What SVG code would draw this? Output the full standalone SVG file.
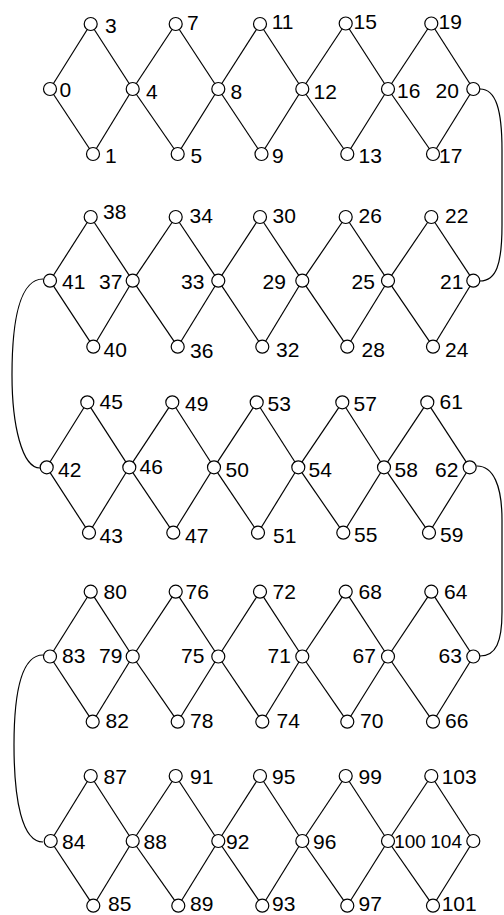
<svg xmlns="http://www.w3.org/2000/svg" width="504" height="915" viewBox="0 0 504 915">
<style>
.e{stroke:#000;stroke-width:1.2;fill:none}
.n circle{fill:#fff;stroke:#000;stroke-width:1.2}
.n text{font-family:"Liberation Sans",Arial,sans-serif;font-size:21px;fill:#000}
.n text.s{font-size:19px}
</style>
<rect width="504" height="915" fill="#fff"/>
<g id="connectors">
<line class="e" x1="50" y1="89" x2="90.7" y2="24"/><line class="e" x1="50" y1="89" x2="93" y2="154"/>
<line class="e" x1="90.7" y1="24" x2="132.7" y2="89"/><line class="e" x1="93" y1="154" x2="132.7" y2="89"/>
<line class="e" x1="132.7" y1="89" x2="175.7" y2="24"/><line class="e" x1="132.7" y1="89" x2="177.7" y2="154"/>
<line class="e" x1="175.7" y1="24" x2="218.3" y2="89"/><line class="e" x1="177.7" y1="154" x2="218.3" y2="89"/>
<line class="e" x1="218.3" y1="89" x2="260" y2="24"/><line class="e" x1="218.3" y1="89" x2="261.5" y2="154"/>
<line class="e" x1="260" y1="24" x2="302.3" y2="89"/><line class="e" x1="261.5" y1="154" x2="302.3" y2="89"/>
<line class="e" x1="302.3" y1="89" x2="345.7" y2="23.5"/><line class="e" x1="302.3" y1="89" x2="347.3" y2="154"/>
<line class="e" x1="345.7" y1="23.5" x2="388" y2="89"/><line class="e" x1="347.3" y1="154" x2="388" y2="89"/>
<line class="e" x1="388" y1="89" x2="431.3" y2="23.5"/><line class="e" x1="388" y1="89" x2="433" y2="154"/>
<line class="e" x1="431.3" y1="23.5" x2="473.3" y2="89"/><line class="e" x1="433" y1="154" x2="473.3" y2="89"/>

<line class="e" x1="50" y1="280.7" x2="90.7" y2="217"/><line class="e" x1="50" y1="280.7" x2="93.3" y2="346.7"/>
<line class="e" x1="90.7" y1="217" x2="132.7" y2="280.7"/><line class="e" x1="93.3" y1="346.7" x2="132.7" y2="280.7"/>
<line class="e" x1="132.7" y1="280.7" x2="175.7" y2="217"/><line class="e" x1="132.7" y1="280.7" x2="177.7" y2="346.7"/>
<line class="e" x1="175.7" y1="217" x2="218.3" y2="280.7"/><line class="e" x1="177.7" y1="346.7" x2="218.3" y2="280.7"/>
<line class="e" x1="218.3" y1="280.7" x2="260" y2="217"/><line class="e" x1="218.3" y1="280.7" x2="262.3" y2="346.7"/>
<line class="e" x1="260" y1="217" x2="302.3" y2="280.7"/><line class="e" x1="262.3" y1="346.7" x2="302.3" y2="280.7"/>
<line class="e" x1="302.3" y1="280.7" x2="345.7" y2="217"/><line class="e" x1="302.3" y1="280.7" x2="347.3" y2="346.7"/>
<line class="e" x1="345.7" y1="217" x2="388" y2="280.7"/><line class="e" x1="347.3" y1="346.7" x2="388" y2="280.7"/>
<line class="e" x1="388" y1="280.7" x2="431.3" y2="217"/><line class="e" x1="388" y1="280.7" x2="433" y2="346.7"/>
<line class="e" x1="431.3" y1="217" x2="473.3" y2="280.7"/><line class="e" x1="433" y1="346.7" x2="473.3" y2="280.7"/>

<line class="e" x1="46.7" y1="467.3" x2="87.3" y2="402.3"/><line class="e" x1="46.7" y1="467.3" x2="89" y2="532.7"/>
<line class="e" x1="87.3" y1="402.3" x2="129.3" y2="467.3"/><line class="e" x1="89" y1="532.7" x2="129.3" y2="467.3"/>
<line class="e" x1="129.3" y1="467.3" x2="172.3" y2="402.3"/><line class="e" x1="129.3" y1="467.3" x2="173.3" y2="532.7"/>
<line class="e" x1="172.3" y1="402.3" x2="214" y2="467.3"/><line class="e" x1="173.3" y1="532.7" x2="214" y2="467.3"/>
<line class="e" x1="214" y1="467.3" x2="256.7" y2="402.3"/><line class="e" x1="214" y1="467.3" x2="258" y2="532.7"/>
<line class="e" x1="256.7" y1="402.3" x2="298.3" y2="467.3"/><line class="e" x1="258" y1="532.7" x2="298.3" y2="467.3"/>
<line class="e" x1="298.3" y1="467.3" x2="342.3" y2="402.3"/><line class="e" x1="298.3" y1="467.3" x2="343.3" y2="532.7"/>
<line class="e" x1="342.3" y1="402.3" x2="384" y2="467.3"/><line class="e" x1="343.3" y1="532.7" x2="384" y2="467.3"/>
<line class="e" x1="384" y1="467.3" x2="427.3" y2="402.3"/><line class="e" x1="384" y1="467.3" x2="429" y2="532.7"/>
<line class="e" x1="427.3" y1="402.3" x2="469.7" y2="467.3"/><line class="e" x1="429" y1="532.7" x2="469.7" y2="467.3"/>

<line class="e" x1="50" y1="656.5" x2="90.7" y2="591.7"/><line class="e" x1="50" y1="656.5" x2="92.7" y2="721.7"/>
<line class="e" x1="90.7" y1="591.7" x2="132.7" y2="656.5"/><line class="e" x1="92.7" y1="721.7" x2="132.7" y2="656.5"/>
<line class="e" x1="132.7" y1="656.5" x2="175.7" y2="591.7"/><line class="e" x1="132.7" y1="656.5" x2="177.7" y2="721.7"/>
<line class="e" x1="175.7" y1="591.7" x2="218.3" y2="656.5"/><line class="e" x1="177.7" y1="721.7" x2="218.3" y2="656.5"/>
<line class="e" x1="218.3" y1="656.5" x2="260" y2="591.7"/><line class="e" x1="218.3" y1="656.5" x2="262.3" y2="721.7"/>
<line class="e" x1="260" y1="591.7" x2="302.3" y2="656.5"/><line class="e" x1="262.3" y1="721.7" x2="302.3" y2="656.5"/>
<line class="e" x1="302.3" y1="656.5" x2="345.7" y2="591.7"/><line class="e" x1="302.3" y1="656.5" x2="347.3" y2="721.7"/>
<line class="e" x1="345.7" y1="591.7" x2="388" y2="656.5"/><line class="e" x1="347.3" y1="721.7" x2="388" y2="656.5"/>
<line class="e" x1="388" y1="656.5" x2="431.3" y2="591.7"/><line class="e" x1="388" y1="656.5" x2="433" y2="721.7"/>
<line class="e" x1="431.3" y1="591.7" x2="473.3" y2="656.5"/><line class="e" x1="433" y1="721.7" x2="473.3" y2="656.5"/>

<line class="e" x1="50.7" y1="841" x2="90.7" y2="776"/><line class="e" x1="50.7" y1="841" x2="93.3" y2="905.7"/>
<line class="e" x1="90.7" y1="776" x2="132.7" y2="841"/><line class="e" x1="93.3" y1="905.7" x2="132.7" y2="841"/>
<line class="e" x1="132.7" y1="841" x2="175.7" y2="776"/><line class="e" x1="132.7" y1="841" x2="178.3" y2="905.7"/>
<line class="e" x1="175.7" y1="776" x2="218.3" y2="841"/><line class="e" x1="178.3" y1="905.7" x2="218.3" y2="841"/>
<line class="e" x1="218.3" y1="841" x2="260" y2="776"/><line class="e" x1="218.3" y1="841" x2="262.3" y2="905.7"/>
<line class="e" x1="260" y1="776" x2="302.3" y2="841"/><line class="e" x1="262.3" y1="905.7" x2="302.3" y2="841"/>
<line class="e" x1="302.3" y1="841" x2="345.7" y2="776"/><line class="e" x1="302.3" y1="841" x2="347.3" y2="905.7"/>
<line class="e" x1="345.7" y1="776" x2="388" y2="841"/><line class="e" x1="347.3" y1="905.7" x2="388" y2="841"/>
<line class="e" x1="388" y1="841" x2="431.3" y2="776"/><line class="e" x1="388" y1="841" x2="433" y2="905.7"/>
<line class="e" x1="431.3" y1="776" x2="473.3" y2="841"/><line class="e" x1="433" y1="905.7" x2="473.3" y2="841"/>

<path class="e" d="M480,89 C496,89 502,110 502,150 L502,225 C502,265 496,281 480,281"/>
<path class="e" d="M43,279 C20,279 12,320 12,375 C12,425 22,468 40,468"/>
<path class="e" d="M477,466 C493,466 502,485 502,520 L502,612 C502,642 496,656 480,656"/>
<path class="e" d="M43,655 C22,655 14,690 14,745 C14,800 22,842 43,842"/>
</g>

<g id="n0" class="n"><circle cx="50" cy="89" r="6.5"/><text x="59.5" y="96.5">0</text></g>
<g id="n3" class="n"><circle cx="90.7" cy="24" r="6.5"/><text x="105" y="33">3</text></g>
<g id="n1" class="n"><circle cx="93" cy="154" r="6.5"/><text x="105" y="163">1</text></g>
<g id="n4" class="n"><circle cx="132.7" cy="89" r="6.5"/><text x="146" y="99">4</text></g>
<g id="n7" class="n"><circle cx="175.7" cy="24" r="6.5"/><text x="187" y="30">7</text></g>
<g id="n5" class="n"><circle cx="177.7" cy="154" r="6.5"/><text x="190.5" y="163">5</text></g>
<g id="n8" class="n"><circle cx="218.3" cy="89" r="6.5"/><text x="230.5" y="99">8</text></g>
<g id="n11" class="n"><circle cx="260" cy="24" r="6.5"/><text x="271.7" y="29">11</text></g>
<g id="n9" class="n"><circle cx="261.5" cy="154" r="6.5"/><text x="272" y="163">9</text></g>
<g id="n12" class="n"><circle cx="302.3" cy="89" r="6.5"/><text x="313.5" y="99">12</text></g>
<g id="n15" class="n"><circle cx="345.7" cy="23.5" r="6.5"/><text x="353.5" y="29">15</text></g>
<g id="n13" class="n"><circle cx="347.3" cy="154" r="6.5"/><text x="358.5" y="163">13</text></g>
<g id="n16" class="n"><circle cx="388" cy="89" r="6.5"/><text x="397" y="98">16</text></g>
<g id="n19" class="n"><circle cx="431.3" cy="23.5" r="6.5"/><text x="438.5" y="29">19</text></g>
<g id="n17" class="n"><circle cx="433" cy="154" r="6.5"/><text x="439" y="163">17</text></g>
<g id="n20" class="n"><circle cx="473.3" cy="89" r="6.5"/><text x="435.5" y="98">20</text></g>

<g id="n41" class="n"><circle cx="50" cy="280.7" r="6.5"/><text x="62" y="289">41</text></g>
<g id="n38" class="n"><circle cx="90.7" cy="217" r="6.5"/><text x="103" y="219">38</text></g>
<g id="n40" class="n"><circle cx="93.3" cy="346.7" r="6.5"/><text x="103.5" y="357">40</text></g>
<g id="n37" class="n"><circle cx="132.7" cy="280.7" r="6.5"/><text x="99" y="289">37</text></g>
<g id="n34" class="n"><circle cx="175.7" cy="217" r="6.5"/><text x="189.5" y="223">34</text></g>
<g id="n36" class="n"><circle cx="177.7" cy="346.7" r="6.5"/><text x="190" y="358">36</text></g>
<g id="n33" class="n"><circle cx="218.3" cy="280.7" r="6.5"/><text x="181" y="289">33</text></g>
<g id="n30" class="n"><circle cx="260" cy="217" r="6.5"/><text x="272.5" y="223">30</text></g>
<g id="n32" class="n"><circle cx="262.3" cy="346.7" r="6.5"/><text x="276" y="357">32</text></g>
<g id="n29" class="n"><circle cx="302.3" cy="280.7" r="6.5"/><text x="262.5" y="289">29</text></g>
<g id="n26" class="n"><circle cx="345.7" cy="217" r="6.5"/><text x="358.5" y="223">26</text></g>
<g id="n28" class="n"><circle cx="347.3" cy="346.7" r="6.5"/><text x="361.5" y="356.5">28</text></g>
<g id="n25" class="n"><circle cx="388" cy="280.7" r="6.5"/><text x="351.5" y="289">25</text></g>
<g id="n22" class="n"><circle cx="431.3" cy="217" r="6.5"/><text x="445" y="223">22</text></g>
<g id="n24" class="n"><circle cx="433" cy="346.7" r="6.5"/><text x="445" y="357">24</text></g>
<g id="n21" class="n"><circle cx="473.3" cy="280.7" r="6.5"/><text x="440" y="289">21</text></g>

<g id="n42" class="n"><circle cx="46.7" cy="467.3" r="6.5"/><text x="58" y="476.5">42</text></g>
<g id="n45" class="n"><circle cx="87.3" cy="402.3" r="6.5"/><text x="99.5" y="409">45</text></g>
<g id="n43" class="n"><circle cx="89" cy="532.7" r="6.5"/><text x="99.5" y="543">43</text></g>
<g id="n46" class="n"><circle cx="129.3" cy="467.3" r="6.5"/><text x="139.5" y="474">46</text></g>
<g id="n49" class="n"><circle cx="172.3" cy="402.3" r="6.5"/><text x="185" y="410.5">49</text></g>
<g id="n47" class="n"><circle cx="173.3" cy="532.7" r="6.5"/><text x="185" y="543">47</text></g>
<g id="n50" class="n"><circle cx="214" cy="467.3" r="6.5"/><text x="225.5" y="476.5">50</text></g>
<g id="n53" class="n"><circle cx="256.7" cy="402.3" r="6.5"/><text x="267.5" y="410.5">53</text></g>
<g id="n51" class="n"><circle cx="258" cy="532.7" r="6.5"/><text x="273" y="543">51</text></g>
<g id="n54" class="n"><circle cx="298.3" cy="467.3" r="6.5"/><text x="308.5" y="476.5">54</text></g>
<g id="n57" class="n"><circle cx="342.3" cy="402.3" r="6.5"/><text x="353.5" y="410.5">57</text></g>
<g id="n55" class="n"><circle cx="343.3" cy="532.7" r="6.5"/><text x="354" y="541.5">55</text></g>
<g id="n58" class="n"><circle cx="384" cy="467.3" r="6.5"/><text x="394.5" y="476.5">58</text></g>
<g id="n61" class="n"><circle cx="427.3" cy="402.3" r="6.5"/><text x="439.5" y="409">61</text></g>
<g id="n59" class="n"><circle cx="429" cy="532.7" r="6.5"/><text x="440" y="541.5">59</text></g>
<g id="n62" class="n"><circle cx="469.7" cy="467.3" r="6.5"/><text x="435" y="476.5">62</text></g>

<g id="n83" class="n"><circle cx="50" cy="656.5" r="6.5"/><text x="62" y="663">83</text></g>
<g id="n80" class="n"><circle cx="90.7" cy="591.7" r="6.5"/><text x="103.5" y="599">80</text></g>
<g id="n82" class="n"><circle cx="92.7" cy="721.7" r="6.5"/><text x="105.5" y="728">82</text></g>
<g id="n79" class="n"><circle cx="132.7" cy="656.5" r="6.5"/><text x="99" y="663">79</text></g>
<g id="n76" class="n"><circle cx="175.7" cy="591.7" r="6.5"/><text x="185.5" y="599">76</text></g>
<g id="n78" class="n"><circle cx="177.7" cy="721.7" r="6.5"/><text x="190" y="728">78</text></g>
<g id="n75" class="n"><circle cx="218.3" cy="656.5" r="6.5"/><text x="181" y="663">75</text></g>
<g id="n72" class="n"><circle cx="260" cy="591.7" r="6.5"/><text x="272.5" y="599">72</text></g>
<g id="n74" class="n"><circle cx="262.3" cy="721.7" r="6.5"/><text x="276.5" y="728">74</text></g>
<g id="n71" class="n"><circle cx="302.3" cy="656.5" r="6.5"/><text x="267.5" y="663">71</text></g>
<g id="n68" class="n"><circle cx="345.7" cy="591.7" r="6.5"/><text x="358.5" y="599">68</text></g>
<g id="n70" class="n"><circle cx="347.3" cy="721.7" r="6.5"/><text x="360" y="728">70</text></g>
<g id="n67" class="n"><circle cx="388" cy="656.5" r="6.5"/><text x="352.5" y="663">67</text></g>
<g id="n64" class="n"><circle cx="431.3" cy="591.7" r="6.5"/><text x="444" y="599">64</text></g>
<g id="n66" class="n"><circle cx="433" cy="721.7" r="6.5"/><text x="445" y="728">66</text></g>
<g id="n63" class="n"><circle cx="473.3" cy="656.5" r="6.5"/><text x="438.5" y="663">63</text></g>

<g id="n84" class="n"><circle cx="50.7" cy="841" r="6.5"/><text x="62" y="849">84</text></g>
<g id="n87" class="n"><circle cx="90.7" cy="776" r="6.5"/><text x="103.5" y="784">87</text></g>
<g id="n85" class="n"><circle cx="93.3" cy="905.7" r="6.5"/><text x="108" y="910.5">85</text></g>
<g id="n88" class="n"><circle cx="132.7" cy="841" r="6.5"/><text x="143.5" y="849">88</text></g>
<g id="n91" class="n"><circle cx="175.7" cy="776" r="6.5"/><text x="190" y="784">91</text></g>
<g id="n89" class="n"><circle cx="178.3" cy="905.7" r="6.5"/><text x="190" y="910.5">89</text></g>
<g id="n92" class="n"><circle cx="218.3" cy="841" r="6.5"/><text x="226" y="849">92</text></g>
<g id="n95" class="n"><circle cx="260" cy="776" r="6.5"/><text x="272" y="784">95</text></g>
<g id="n93" class="n"><circle cx="262.3" cy="905.7" r="6.5"/><text x="272" y="910.5">93</text></g>
<g id="n96" class="n"><circle cx="302.3" cy="841" r="6.5"/><text x="313" y="849">96</text></g>
<g id="n99" class="n"><circle cx="345.7" cy="776" r="6.5"/><text x="358.5" y="784">99</text></g>
<g id="n97" class="n"><circle cx="347.3" cy="905.7" r="6.5"/><text x="358.5" y="910.5">97</text></g>
<g id="n100" class="n"><circle cx="388" cy="841" r="6.5"/><text class="s" x="394.2" y="848">100</text></g>
<g id="n103" class="n"><circle cx="431.3" cy="776" r="6.5"/><text x="441.7" y="784">103</text></g>
<g id="n101" class="n"><circle cx="433" cy="905.7" r="6.5"/><text x="441.7" y="910.5">101</text></g>
<g id="n104" class="n"><circle cx="473.3" cy="841" r="6.5"/><text class="s" x="430.3" y="848">104</text></g>
</svg>
